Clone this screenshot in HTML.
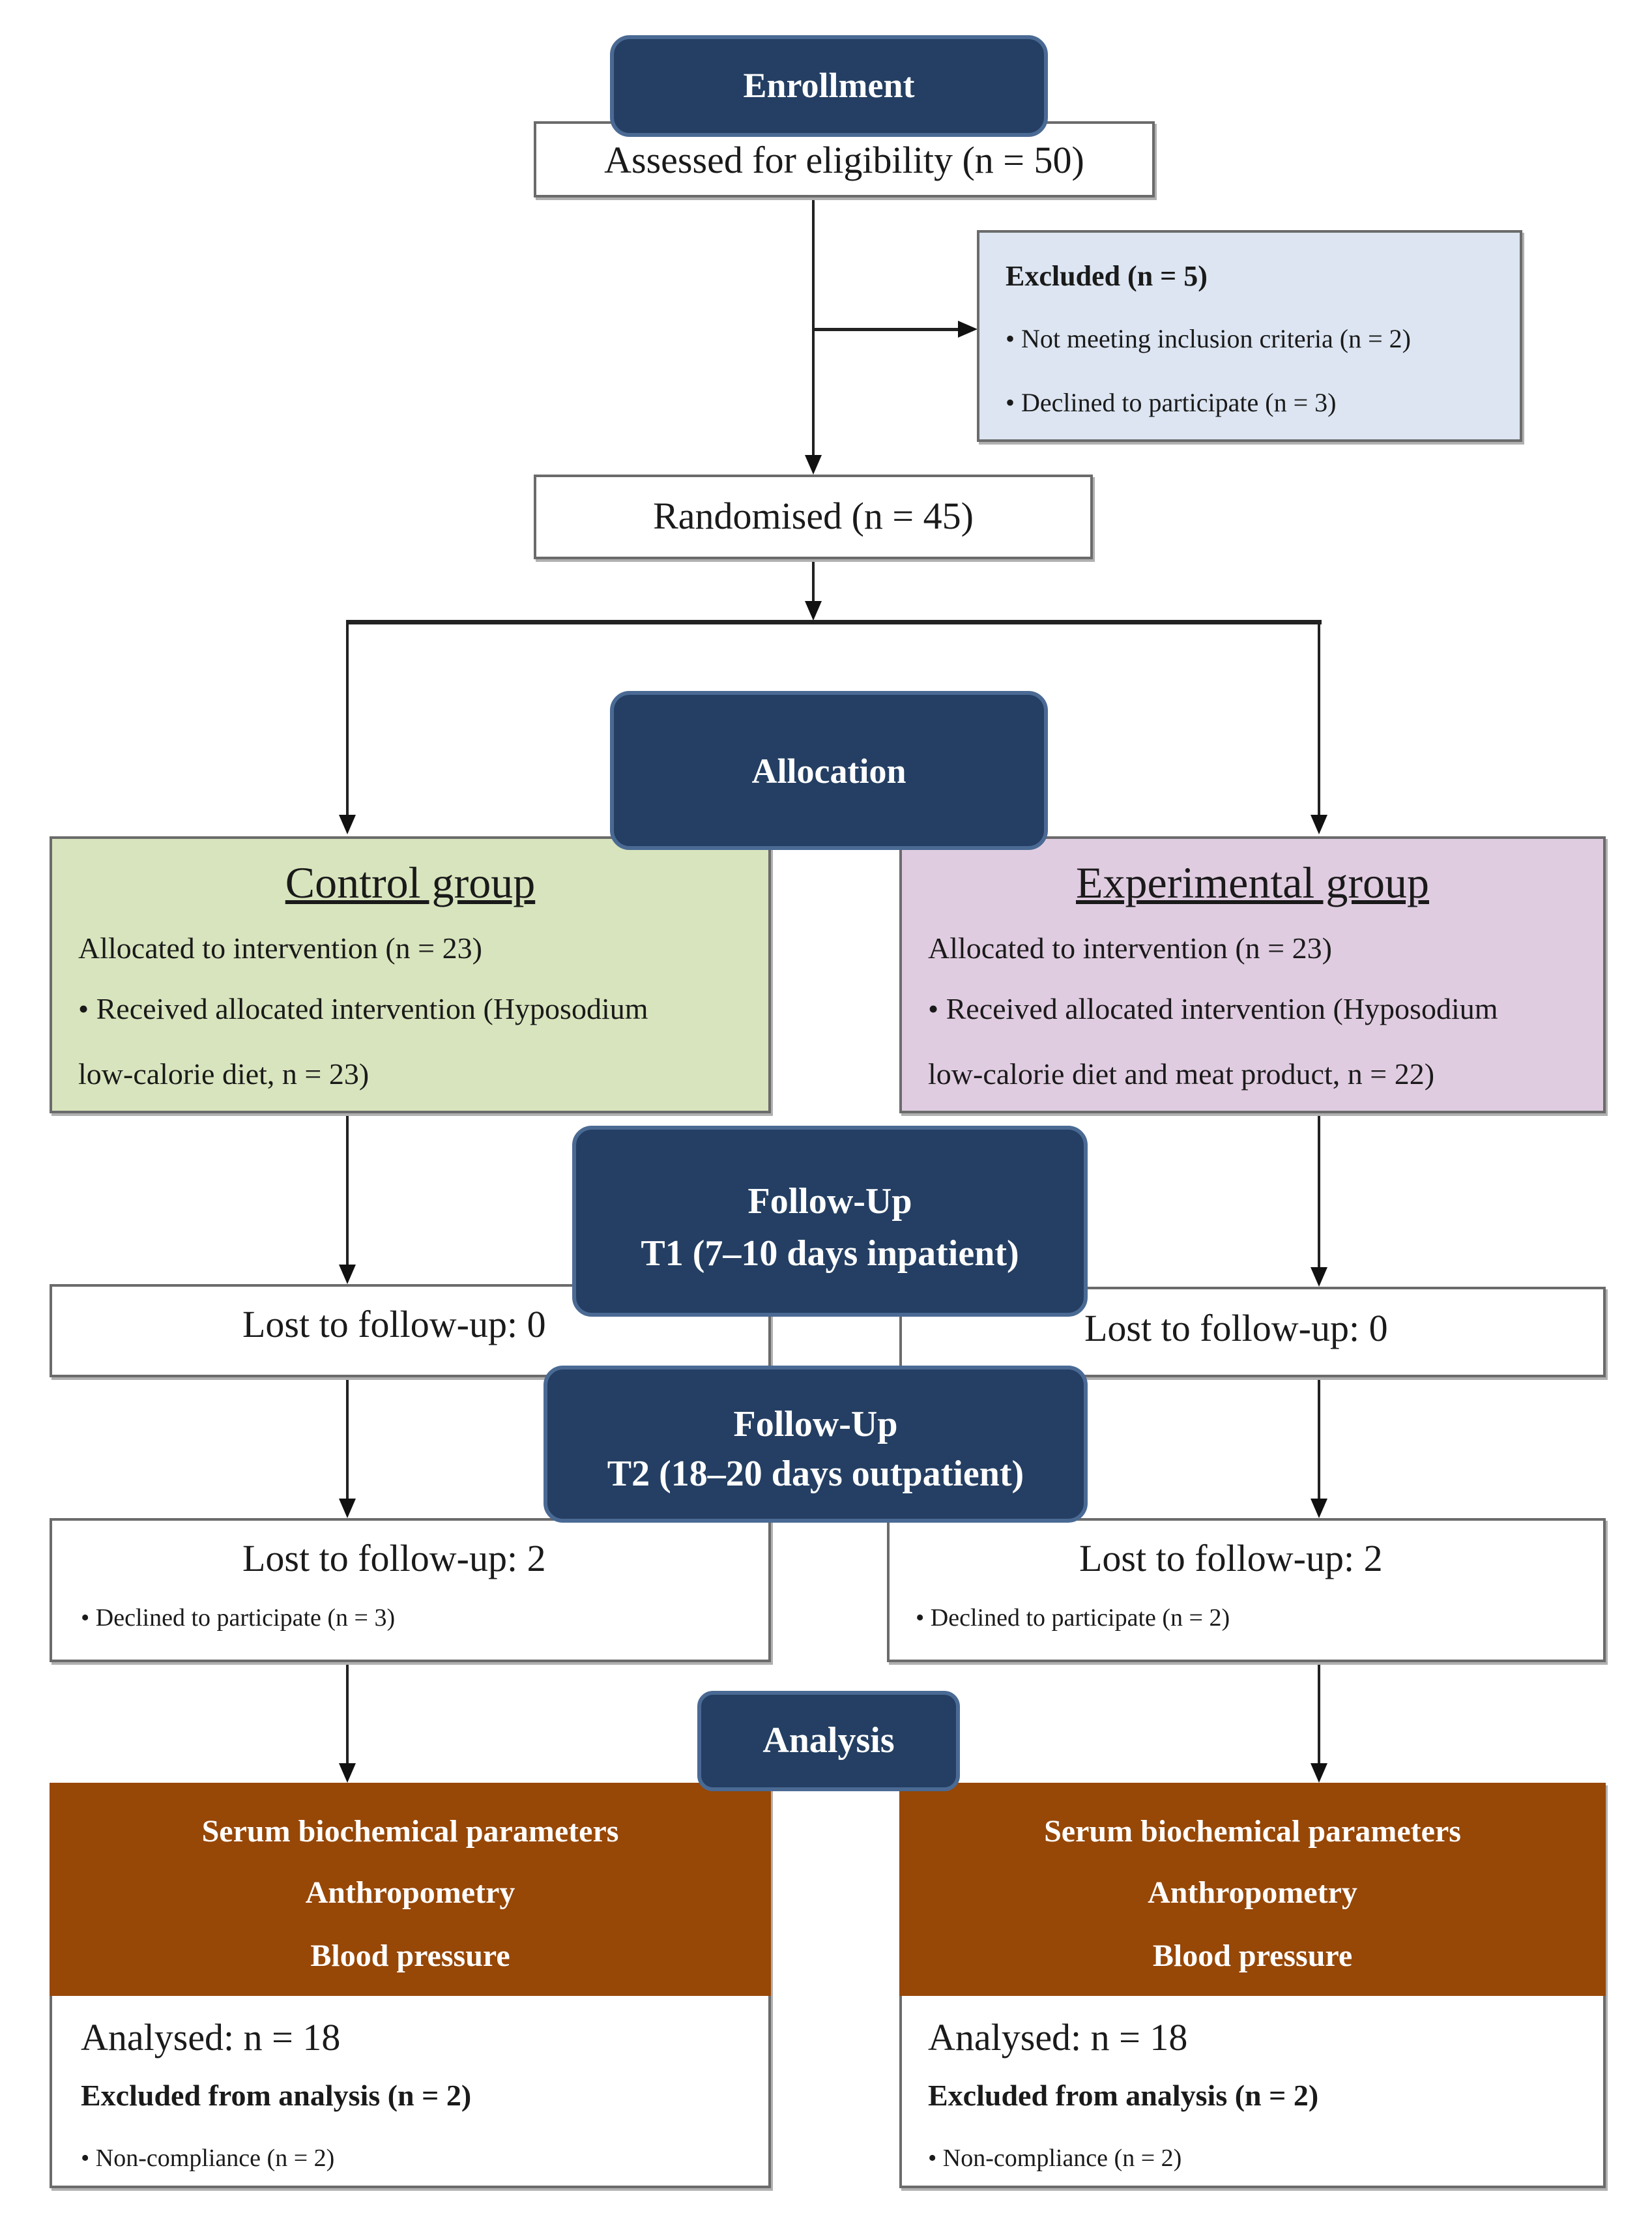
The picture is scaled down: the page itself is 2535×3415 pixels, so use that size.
<!DOCTYPE html>
<html><head><meta charset="utf-8"><style>
body{margin:0;width:2535px;height:3415px;background:#fff;position:relative;font-family:"Liberation Serif",serif;color:#1a1a1a;overflow:hidden}
.b{position:absolute;box-sizing:border-box}
.w{border:4px solid #6b6b6b;background:#fff;box-shadow:3px 4px 0 #b0b0b0}
.n{background:#243f63;border:6px solid #4a6a94;border-radius:30px;color:#fff;font-weight:bold;text-align:center}
.t{position:absolute;white-space:nowrap}
.c{text-align:center}
.vl{position:absolute;width:4px;background:#222}
.hl{position:absolute;height:4px;background:#222}
.ar{position:absolute;width:0;height:0;border-left:13px solid transparent;border-right:13px solid transparent;border-top:30px solid #111}
</style></head><body>
<!-- connectors -->
<div class="vl" style="left:1246px;top:303px;height:400px"></div>
<div class="ar" style="left:1235px;top:698px"></div>
<div class="hl" style="left:1248px;top:503px;height:5px;width:225px"></div>
<div class="ar" style="left:1470px;top:492px;border-top:13px solid transparent;border-bottom:13px solid transparent;border-left:30px solid #111;border-right:0"></div>
<div class="vl" style="left:1246px;top:858px;height:70px"></div>
<div class="ar" style="left:1235px;top:922px"></div>
<div class="hl" style="left:531px;top:951px;width:1497px;height:7px"></div>
<div class="vl" style="left:531px;top:951px;height:305px"></div>
<div class="ar" style="left:520px;top:1250px"></div>
<div class="vl" style="left:2022px;top:951px;height:305px"></div>
<div class="ar" style="left:2011px;top:1250px"></div>
<div class="vl" style="left:531px;top:1708px;height:235px"></div><div class="ar" style="left:520px;top:1940px"></div>
<div class="vl" style="left:2022px;top:1708px;height:240px"></div><div class="ar" style="left:2011px;top:1944px"></div>
<div class="vl" style="left:531px;top:2113px;height:190px"></div><div class="ar" style="left:520px;top:2299px"></div>
<div class="vl" style="left:2022px;top:2113px;height:190px"></div><div class="ar" style="left:2011px;top:2299px"></div>
<div class="vl" style="left:531px;top:2550px;height:155px"></div><div class="ar" style="left:520px;top:2705px"></div>
<div class="vl" style="left:2022px;top:2550px;height:155px"></div><div class="ar" style="left:2011px;top:2705px"></div>

<!-- boxes -->
<div class="b w" style="left:819px;top:186px;width:953px;height:117px"></div>
<div class="t c" style="left:819px;width:953px;top:212px;font-size:58px">Assessed for eligibility (n = 50)</div>
<div class="b n" style="left:936px;top:54px;width:672px;height:156px"><div style="margin-top:40px;font-size:54px">Enrollment</div></div>

<div class="b w" style="left:1499px;top:353px;width:837px;height:325px;background:#dce5f1"></div>
<div class="t" style="left:1543px;top:398px;font-size:44px;font-weight:bold">Excluded (n = 5)</div>
<div class="t" style="left:1543px;top:496px;font-size:40px">• Not meeting inclusion criteria (n = 2)</div>
<div class="t" style="left:1543px;top:594px;font-size:40px">• Declined to participate (n = 3)</div>

<div class="b w" style="left:819px;top:728px;width:858px;height:130px"></div>
<div class="t c" style="left:819px;width:858px;top:758px;font-size:58px">Randomised (n = 45)</div>

<div class="b w" style="left:76px;top:1283px;width:1107px;height:425px;background:#d8e4bd"></div>
<div class="t c" style="left:76px;width:1107px;top:1315px;font-size:68px;text-decoration:underline">Control group</div>
<div class="t" style="left:120px;top:1428px;font-size:46px">Allocated to intervention (n = 23)</div>
<div class="t" style="left:120px;top:1521px;font-size:46px">• Received allocated intervention (Hyposodium</div>
<div class="t" style="left:120px;top:1621px;font-size:46px">low-calorie diet, n = 23)</div>

<div class="b w" style="left:1380px;top:1283px;width:1084px;height:425px;background:#e0cce0"></div>
<div class="t c" style="left:1380px;width:1084px;top:1315px;font-size:68px;text-decoration:underline">Experimental group</div>
<div class="t" style="left:1424px;top:1428px;font-size:46px">Allocated to intervention (n = 23)</div>
<div class="t" style="left:1424px;top:1521px;font-size:46px">• Received allocated intervention (Hyposodium</div>
<div class="t" style="left:1424px;top:1621px;font-size:46px">low-calorie diet and meat product, n = 22)</div>

<div class="b n" style="left:936px;top:1060px;width:672px;height:244px"><div style="margin-top:86px;font-size:54px">Allocation</div></div>

<div class="b w" style="left:76px;top:1970px;width:1107px;height:143px"></div>
<div class="t" style="left:372px;top:1998px;font-size:58px">Lost to follow-up: 0</div>
<div class="b w" style="left:1380px;top:1974px;width:1084px;height:139px"></div>
<div class="t" style="left:1664px;top:2004px;font-size:58px">Lost to follow-up: 0</div>

<div class="b n" style="left:878px;top:1727px;width:791px;height:293px"><div style="margin-top:70px;font-size:56px;line-height:80px">Follow-Up<br>T1 (7–10 days inpatient)</div></div>

<div class="b w" style="left:76px;top:2329px;width:1107px;height:221px"></div>
<div class="t" style="left:372px;top:2357px;font-size:58px">Lost to follow-up: 2</div>
<div class="t" style="left:124px;top:2460px;font-size:38px">• Declined to participate (n = 3)</div>
<div class="b w" style="left:1361px;top:2329px;width:1103px;height:221px"></div>
<div class="t" style="left:1656px;top:2357px;font-size:58px">Lost to follow-up: 2</div>
<div class="t" style="left:1405px;top:2460px;font-size:38px">• Declined to participate (n = 2)</div>

<div class="b n" style="left:834px;top:2095px;width:835px;height:241px"><div style="margin-top:46px;font-size:56px;line-height:76px">Follow-Up<br>T2 (18–20 days outpatient)</div></div>

<div class="b w" style="left:76px;top:2735px;width:1107px;height:622px"></div>
<div class="b" style="left:76px;top:2735px;width:1107px;height:327px;background:#974706"></div>
<div class="t c" style="left:76px;width:1107px;top:2782px;font-size:48px;color:#fff;font-weight:bold">Serum biochemical parameters</div>
<div class="t c" style="left:76px;width:1107px;top:2876px;font-size:48px;color:#fff;font-weight:bold">Anthropometry</div>
<div class="t c" style="left:76px;width:1107px;top:2973px;font-size:48px;color:#fff;font-weight:bold">Blood pressure</div>
<div class="t" style="left:124px;top:3092px;font-size:58px">Analysed: n = 18</div>
<div class="t" style="left:124px;top:3188px;font-size:46px;font-weight:bold">Excluded from analysis (n = 2)</div>
<div class="t" style="left:124px;top:3289px;font-size:38px">• Non-compliance (n = 2)</div>

<div class="b w" style="left:1380px;top:2735px;width:1084px;height:622px"></div>
<div class="b" style="left:1380px;top:2735px;width:1084px;height:327px;background:#974706"></div>
<div class="t c" style="left:1380px;width:1084px;top:2782px;font-size:48px;color:#fff;font-weight:bold">Serum biochemical parameters</div>
<div class="t c" style="left:1380px;width:1084px;top:2876px;font-size:48px;color:#fff;font-weight:bold">Anthropometry</div>
<div class="t c" style="left:1380px;width:1084px;top:2973px;font-size:48px;color:#fff;font-weight:bold">Blood pressure</div>
<div class="t" style="left:1424px;top:3092px;font-size:58px">Analysed: n = 18</div>
<div class="t" style="left:1424px;top:3188px;font-size:46px;font-weight:bold">Excluded from analysis (n = 2)</div>
<div class="t" style="left:1424px;top:3289px;font-size:38px">• Non-compliance (n = 2)</div>

<div class="b n" style="left:1070px;top:2594px;width:403px;height:154px;border-radius:24px"><div style="margin-top:38px;font-size:56px">Analysis</div></div>
</body></html>
